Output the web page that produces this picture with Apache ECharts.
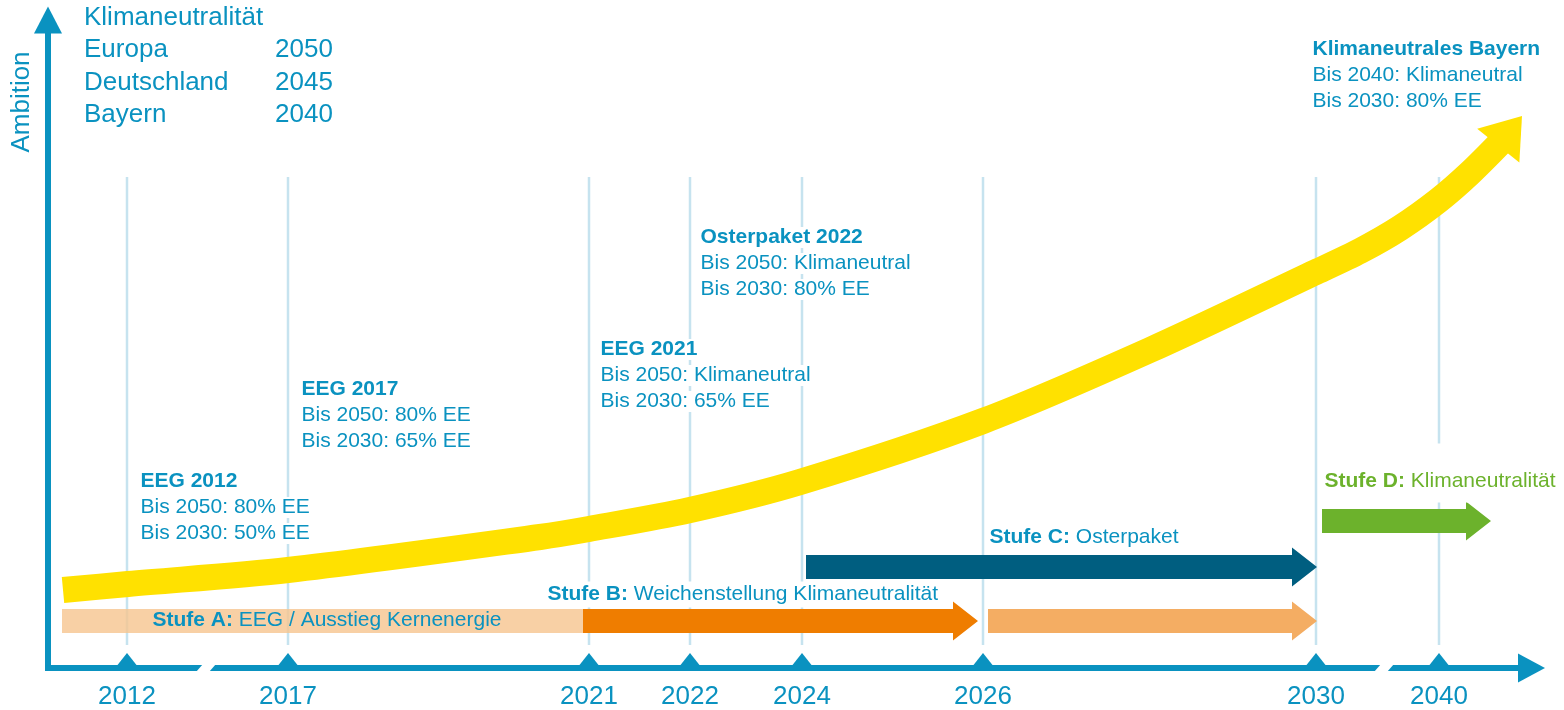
<!DOCTYPE html>
<html>
<head>
<meta charset="utf-8">
<title>Klimaneutralität – Stufen</title>
<script src="https://cdn.jsdelivr.net/npm/echarts@6/dist/echarts.min.js"></script>
<style>
html, body { margin: 0; padding: 0; background: #fff; }
#chart { width: 1564px; height: 710px; }
</style>
</head>
<body>
<div id="chart"></div>
<script>
// schematic units: x = position on the timeline, y = ambition level
const years = ['2012', '2017', '2021', '2022', '2024', '2026', '2030', '2040'];
const yearPos = [79, 240, 541, 642, 754, 935, 1268, 1391];
const axisBreaks = [158, 1336];

// yellow ambition arrow
const ambitionX = [15, 80, 240, 492, 541, 642, 752, 935, 1102, 1268, 1312, 1352, 1391, 1422, 1454];
const ambitionY = [78, 84, 98, 131, 139, 158, 186, 247, 318, 396, 417, 440, 468, 495, 527];
const ambitionTip = [1474, 552];

// stage arrows
const stageFrom = [14, 535, 940, 758, 1274];
const stageTo = [535, 930, 1269, 1269, 1443];
const stageLevel = [47, 47, 47, 101, 147];
const stageHead = [0, 1, 1, 1, 1];

// stage labels
const phaseKey = ['Stufe A:', 'Stufe B:', 'Stufe C:', 'Stufe D:'];
const phaseText = ['EEG / Ausstieg Kernenergie', 'Weichenstellung Klimaneutralität', 'Osterpaket', 'Klimaneutralität'];
const phaseX = [105, 500, 942, 1277];
const phaseY = [47, 73, 130, 186];

// milestone notes
const noteTitle = ['EEG 2012', 'EEG 2017', 'EEG 2021', 'Osterpaket 2022', 'Klimaneutrales Bayern'];
const noteLine1 = ['Bis 2050: 80% EE', 'Bis 2050: 80% EE', 'Bis 2050: Klimaneutral', 'Bis 2050: Klimaneutral', 'Bis 2040: Klimaneutral'];
const noteLine2 = ['Bis 2030: 50% EE', 'Bis 2030: 65% EE', 'Bis 2030: 65% EE', 'Bis 2030: 80% EE', 'Bis 2030: 80% EE'];
const noteX = [93, 254, 553, 653, 1265];
const noteY = [199, 291.5, 331, 443, 631.5];

// targets top left
const targetTitle = 'Klimaneutralität';
const targetRegions = ['Europa', 'Deutschland', 'Bayern'];
const targetYears = ['2050', '2045', '2040'];

const blue = '#0a92c0';
const green = '#6cb22c';
const yellow = '#ffe100';
const font = '"Liberation Sans", Arial, sans-serif';
const stageColors = ['rgba(246,196,142,0.8)', '#ef7d00', '#f4ad63', '#005e80', green];

const chart = echarts.init(document.getElementById('chart'));

const graphic = [];
graphic.push({
    type: 'text', x: 84, y: 17.6,
    style: { text: targetTitle, fill: blue, font: '26px ' + font, align: 'left', verticalAlign: 'middle' }
});
targetRegions.forEach((r, i) => {
    graphic.push({
        type: 'text', x: 84, y: 17.6 + 32.5 * (i + 1),
        style: { text: r, fill: blue, font: '26px ' + font, align: 'left', verticalAlign: 'middle' }
    });
    graphic.push({
        type: 'text', x: 275, y: 17.6 + 32.5 * (i + 1),
        style: { text: targetYears[i], fill: blue, font: '26px ' + font, align: 'left', verticalAlign: 'middle' }
    });
});
graphic.push({
    type: 'text', x: 22, y: 102, rotation: Math.PI / 2,
    style: { text: 'Ambition', fill: blue, font: '26px ' + font, align: 'center', verticalAlign: 'middle' }
});

const option = {
    animation: false,
    backgroundColor: '#fff',
    grid: { left: 48, right: 32.5, top: 20, bottom: 42 },
    graphic: graphic,
    xAxis: {
        type: 'value',
        min: 0,
        max: 1483.5,
        axisLine: {
            lineStyle: { color: blue, width: 6 },
            symbol: ['none', 'triangle'],
            symbolSize: [29, 27]
        },
        axisTick: { show: false },
        splitLine: { show: false },
        axisLabel: {
            customValues: yearPos,
            formatter: v => years[yearPos.indexOf(v)],
            color: blue,
            fontSize: 26,
            fontFamily: font,
            margin: 16
        }
    },
    yAxis: {
        type: 'value',
        min: 0,
        max: 648,
        axisLine: {
            show: true,
            lineStyle: { color: blue, width: 6, cap: 'square' },
            symbol: ['none', 'triangle'],
            symbolSize: [28, 27]
        },
        axisTick: { show: false },
        axisLabel: { show: false },
        splitLine: { show: false }
    },
    series: [
        {
            // year guide lines
            type: 'custom',
            z: 1,
            silent: true,
            encode: { x: 0, y: 1 },
            data: yearPos.map(x => [x, 0]),
            renderItem: (params, api) => {
                const top = api.coord([api.value(0), 491]);
                const bot = api.coord([api.value(0), 23]);
                return {
                    type: 'line',
                    shape: { x1: top[0], y1: top[1], x2: bot[0], y2: bot[1] },
                    style: { stroke: '#c6e3ef', lineWidth: 2.5 }
                };
            }
        },
        {
            // milestone notes
            type: 'scatter',
            z: 2,
            silent: true,
            clip: false,
            symbolSize: 1,
            itemStyle: { color: 'transparent', opacity: 1 },
            data: noteX.map((x, i) => [x, noteY[i]]),
            label: {
                show: true,
                position: [0, 0],
                align: 'left',
                verticalAlign: 'top',
                formatter: p => '{t|' + noteTitle[p.dataIndex] + '}\n{n|' + noteLine1[p.dataIndex] + '}\n{n|' + noteLine2[p.dataIndex] + '}',
                rich: {
                    t: { fontFamily: font, fontSize: 21, fontWeight: 'bold', color: blue, lineHeight: 26, backgroundColor: '#fff' },
                    n: { fontFamily: font, fontSize: 21, color: blue, lineHeight: 26, backgroundColor: '#fff' }
                }
            }
        },
        {
            // ambition curve
            type: 'line',
            z: 3,
            silent: true,
            smooth: 0.3,
            symbol: 'none',
            data: ambitionX.map((x, i) => [x, ambitionY[i]]),
            lineStyle: { color: yellow, width: 26, cap: 'butt' }
        },
        {
            // ambition arrow head
            type: 'custom',
            z: 3,
            silent: true,
            encode: { x: [0, 2], y: [1, 3] },
            data: [[ambitionX[ambitionX.length - 1], ambitionY[ambitionY.length - 1], ambitionTip[0], ambitionTip[1]]],
            renderItem: (params, api) => {
                const from = api.coord([api.value(0), api.value(1)]);
                const tip = api.coord([api.value(2), api.value(3)]);
                const dx = tip[0] - from[0], dy = tip[1] - from[1];
                const len = Math.hypot(dx, dy);
                const ux = dx / len, uy = dy / len;
                const bx = tip[0] - ux * 38, by = tip[1] - uy * 38;
                return {
                    type: 'polygon',
                    shape: { points: [tip, [bx - uy * 27, by + ux * 27], [bx + uy * 27, by - ux * 27]] },
                    style: { fill: yellow }
                };
            }
        },
        {
            // stage arrows
            type: 'custom',
            z: 4,
            silent: true,
            encode: { x: [0, 1], y: 2 },
            data: stageFrom.map((x, i) => [x, stageTo[i], stageLevel[i], stageHead[i]]),
            renderItem: (params, api) => {
                const p0 = api.coord([api.value(0), api.value(2)]);
                const p1 = api.coord([api.value(1), api.value(2)]);
                const y = p0[1];
                const hl = api.value(3) ? 25 : 0;
                const pts = [
                    [p0[0], y - 12], [p1[0] - hl, y - 12]
                ];
                if (hl) {
                    pts.push([p1[0] - hl, y - 19.5], [p1[0], y], [p1[0] - hl, y + 19.5]);
                }
                pts.push([p1[0] - hl, y + 12], [p0[0], y + 12]);
                return {
                    type: 'polygon',
                    shape: { points: pts },
                    style: { fill: stageColors[params.dataIndex] }
                };
            }
        },
        {
            // stage labels
            type: 'scatter',
            z: 5,
            silent: true,
            clip: false,
            symbolSize: 1,
            itemStyle: { color: 'transparent', opacity: 1 },
            data: phaseX.map((x, i) => {
                const item = { value: [x, phaseY[i]] };
                if (i === 1) item.label = { backgroundColor: '#fff', padding: [0, 4], offset: [-4, 0] };
                if (i === 3) item.label = { backgroundColor: '#fff', padding: [25, 4, 8, 4], offset: [-4, -8.5] };
                return item;
            }),
            label: {
                show: true,
                position: [0, 0],
                align: 'left',
                verticalAlign: 'middle',
                formatter: p => {
                    const g = p.dataIndex === 3 ? 'g' : '';
                    return '{k' + g + '|' + phaseKey[p.dataIndex] + '}{v' + g + '| ' + phaseText[p.dataIndex] + '}';
                },
                rich: {
                    k: { fontFamily: font, fontSize: 21, fontWeight: 'bold', color: blue, lineHeight: 26 },
                    v: { fontFamily: font, fontSize: 21, color: blue, lineHeight: 26 },
                    kg: { fontFamily: font, fontSize: 21, fontWeight: 'bold', color: green, lineHeight: 26 },
                    vg: { fontFamily: font, fontSize: 21, color: green, lineHeight: 26 }
                }
            }
        },
        {
            // tick markers on the time axis
            type: 'scatter',
            z: 6,
            silent: true,
            clip: false,
            symbol: 'triangle',
            symbolSize: [19, 12],
            symbolOffset: [0, -9],
            itemStyle: { color: blue, opacity: 1 },
            data: yearPos.map(x => [x, 0])
        },
        {
            // breaks in the time axis
            type: 'custom',
            z: 7,
            silent: true,
            clip: false,
            encode: { x: 0, y: 1 },
            data: axisBreaks.map(x => [x, 0]),
            renderItem: (params, api) => {
                const c = api.coord([api.value(0), 0]);
                return {
                    type: 'polygon',
                    shape: { points: [[c[0] - 10, c[1] + 4], [c[0] + 3, c[1] + 4], [c[0] + 10, c[1] - 4], [c[0] - 3, c[1] - 4]] },
                    style: { fill: '#fff' }
                };
            }
        }
    ]
};

chart.setOption(option);
</script>
</body>
</html>
